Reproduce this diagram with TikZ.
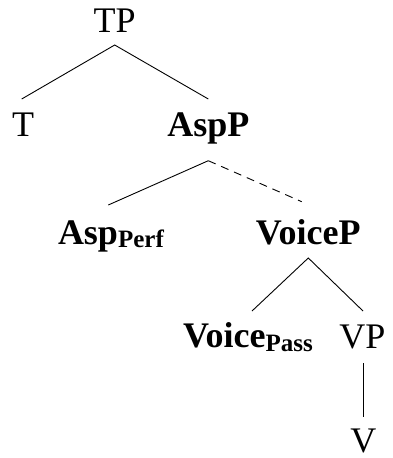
\documentclass[tikz,border=0pt]{standalone}
\usepackage{fontspec}
\setmainfont{Liberation Serif}
\usetikzlibrary{calc}
\newcommand{\labsub}[2]{\raisebox{#1}{\fontsize{25}{27}\selectfont\textbf{#2}}}
\begin{document}
\begin{tikzpicture}[x=1pt,y=-1pt,
  lab/.style={inner sep=0pt,outer sep=0pt,font=\fontsize{36}{40}\selectfont},
  edge/.style={line width=0.9pt,black},
  dashedge/.style={edge,dash pattern=on 8pt off 6pt}]
  \useasboundingbox (0,0) rectangle (392,458);
  % tree labels, placed on their baselines
  \node[lab,anchor=base] (tp) at (114.7,32) {TP};
  \node[lab,anchor=base] (t) at (23,136.7) {T};
  \node[lab,anchor=base] (aspp) at (208.3,136.7) {\textbf{AspP}};
  \node[lab,anchor=base west] (aspperf) at (58,244.5) {\textbf{Asp}\labsub{-3.2pt}{Perf}};
  \node[lab,anchor=base] (voicep) at (308.3,244.5) {\textbf{VoiceP}};
  \node[lab,anchor=base west] (voicepass) at (183,347) {\textbf{Voice}\labsub{-4.5pt}{Pass}};
  \node[lab,anchor=base] (vp) at (362.5,348) {VP};
  \node[lab,anchor=base] (v) at (363.3,452.5) {V};
  % branches
  \draw[edge] ($(t.base)+(-1.3,-37.7)$) -- ($(tp.base)+(0,13)$) -- ($(aspp.base)+(0,-37.7)$);
  \draw[edge] ($(aspperf.base west)+(50.3,-39.5)$) -- ($(aspp.base)+(0,24)$);
  \draw[dashedge] ($(aspp.base)+(0,24)$) -- ($(voicep.base)+(-6.6,-42.8)$);
  \draw[edge] ($(voicepass.base west)+(69,-36)$) -- ($(voicep.base)+(0,13.5)$) -- ($(vp.base)+(0.5,-37)$);
  \draw[edge] ($(vp.base)+(0.8,15.3)$) -- ($(v.base)+(0,-35.8)$);
\end{tikzpicture}
\end{document}
